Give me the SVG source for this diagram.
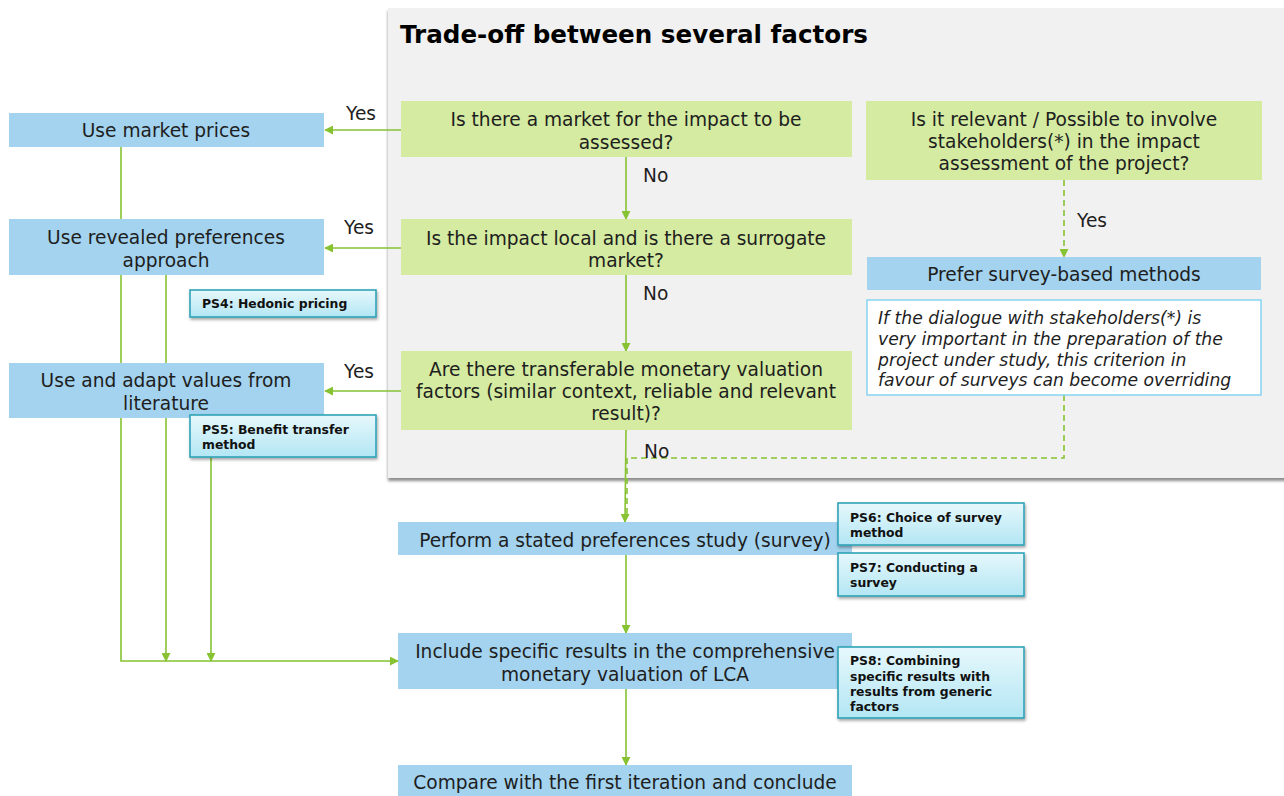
<svg xmlns="http://www.w3.org/2000/svg" width="1284" height="796" viewBox="0 0 1284 796">
  <style>
    text { font-family: "DejaVu Sans", Verdana, sans-serif; fill: #1e1e1e; }
    .t { font-size: 18.6px; text-anchor: middle; }
    .lbl { font-size: 18.6px; }
    .title { font-size: 24.6px; font-weight: bold; fill: #000; }
    .note { font-size: 17.2px; font-style: italic; }
    .ps { font-size: 12.4px; font-weight: bold; fill: #111; }
    .blue { fill: #a3d3ee; }
    .green { fill: #d4eba1; }
    .psbox { fill: url(#psFill); stroke: #2fa3b8; stroke-width: 1.6; filter: url(#shadow); }
    .wire { fill: none; stroke: #86c232; stroke-width: 1.6; }
    .dash { fill: none; stroke: #86c232; stroke-width: 1.6; stroke-dasharray: 6 4; }
  </style>
  <defs>
    <marker id="arrow" viewBox="0 0 10 10" refX="9" refY="5" markerWidth="9" markerHeight="9" markerUnits="userSpaceOnUse" orient="auto">
      <path d="M0,0 L10,5 L0,10 z" fill="#86c232"/>
    </marker>
    <linearGradient id="psFill" x1="0" y1="0" x2="0" y2="1">
      <stop offset="0" stop-color="#e6f8fc"/>
      <stop offset="1" stop-color="#b3e6f4"/>
    </linearGradient>
    <filter id="shadow" x="-10%" y="-20%" width="125%" height="150%">
      <feDropShadow dx="1" dy="2" stdDeviation="1.5" flood-color="#000" flood-opacity="0.35"/>
    </filter>
    <filter id="panelShadow" x="-5%" y="-5%" width="110%" height="110%">
      <feDropShadow dx="0" dy="3" stdDeviation="1.5" flood-color="#000" flood-opacity="0.45"/>
    </filter>
  </defs>

  <rect width="1284" height="796" fill="#fff"/>

  <!-- grey trade-off panel -->
  <g id="panel">
    <rect x="388" y="8" width="900" height="470" fill="#f1f1f1" filter="url(#panelShadow)"/>
    <text class="title" x="400" y="43">Trade-off between several factors</text>
  </g>

  <!-- connectors -->
  <g id="connectors">
    <!-- Yes branches to the left -->
    <line class="wire" x1="401" y1="130" x2="325" y2="130" marker-end="url(#arrow)"/>
    <line class="wire" x1="401" y1="248" x2="325" y2="248" marker-end="url(#arrow)"/>
    <line class="wire" x1="401" y1="391" x2="325" y2="391" marker-end="url(#arrow)"/>
    <!-- No branches downward -->
    <line class="wire" x1="626" y1="157" x2="626" y2="219" marker-end="url(#arrow)"/>
    <line class="wire" x1="626" y1="275" x2="626" y2="351" marker-end="url(#arrow)"/>
    <line class="wire" x1="626" y1="430" x2="625" y2="522" marker-end="url(#arrow)"/>
    <!-- stakeholder branch -->
    <line class="dash" x1="1064" y1="180" x2="1064" y2="257" marker-end="url(#arrow)"/>
    <polyline class="dash" points="1064,395 1064,458 627,458 627,515"/>
    <!-- main trunk -->
    <line class="wire" x1="626" y1="555" x2="626" y2="633" marker-end="url(#arrow)"/>
    <line class="wire" x1="626" y1="689" x2="626" y2="765" marker-end="url(#arrow)"/>
    <!-- left collector lines -->
    <polyline class="wire" points="121,147 121,661 398,661" marker-end="url(#arrow)"/>
    <line class="wire" x1="166" y1="275" x2="166" y2="661" marker-end="url(#arrow)"/>
    <line class="wire" x1="211" y1="457" x2="211" y2="661" marker-end="url(#arrow)"/>
  </g>

  <!-- left column: method boxes -->
  <g id="market-prices">
    <rect class="blue" x="9" y="113" width="315" height="34"/>
    <text class="t" x="166" y="137">Use market prices</text>
  </g>
  <g id="revealed-preferences">
    <rect class="blue" x="9" y="219" width="315" height="56"/>
    <text class="t" x="166" y="244">Use revealed preferences</text>
    <text class="t" x="166" y="267">approach</text>
  </g>
  <g id="ps4">
    <rect class="psbox" x="190" y="290" width="186" height="27"/>
    <text class="ps" x="202" y="308">PS4: Hedonic pricing</text>
  </g>
  <g id="literature-values">
    <rect class="blue" x="9" y="363" width="315" height="55"/>
    <text class="t" x="166" y="387">Use and adapt values from</text>
    <text class="t" x="166" y="410">literature</text>
  </g>
  <g id="ps5">
    <rect class="psbox" x="190" y="415" width="186" height="42"/>
    <text class="ps" x="202" y="434">PS5: Benefit transfer</text>
    <text class="ps" x="202" y="449">method</text>
  </g>

  <!-- decision questions -->
  <g id="q-market">
    <rect class="green" x="401" y="101" width="451" height="56"/>
    <text class="t" x="626" y="126">Is there a market for the impact to be</text>
    <text class="t" x="626" y="149">assessed?</text>
  </g>
  <g id="q-surrogate">
    <rect class="green" x="401" y="219" width="451" height="56"/>
    <text class="t" x="626" y="245">Is the impact local and is there a surrogate</text>
    <text class="t" x="626" y="267">market?</text>
  </g>
  <g id="q-transfer">
    <rect class="green" x="401" y="351" width="451" height="79"/>
    <text class="t" x="626" y="376">Are there transferable monetary valuation</text>
    <text class="t" x="626" y="398">factors (similar context, reliable and relevant</text>
    <text class="t" x="626" y="420">result)?</text>
  </g>
  <g id="q-stakeholders">
    <rect class="green" x="866" y="101" width="396" height="79"/>
    <text class="t" x="1064" y="126">Is it relevant / Possible to involve</text>
    <text class="t" x="1064" y="148">stakeholders(*) in the impact</text>
    <text class="t" x="1064" y="170">assessment of the project?</text>
  </g>
  <g id="survey-methods">
    <rect class="blue" x="867" y="257" width="394" height="33"/>
    <text class="t" x="1064" y="281">Prefer survey-based methods</text>
  </g>
  <g id="stakeholder-note">
    <rect x="867" y="300" width="394" height="95" fill="#fff" stroke="#85d3f2" stroke-width="1.5"/>
    <text class="note" x="878" y="324">If the dialogue with stakeholders(*) is</text>
    <text class="note" x="878" y="345">very important in the preparation of the</text>
    <text class="note" x="878" y="366">project under study, this criterion in</text>
    <text class="note" x="878" y="386">favour of surveys can become overriding</text>
  </g>

  <!-- branch labels -->
  <g id="branch-labels">
    <text class="lbl" x="346" y="120">Yes</text>
    <text class="lbl" x="344" y="234">Yes</text>
    <text class="lbl" x="344" y="378">Yes</text>
    <text class="lbl" x="643" y="182">No</text>
    <text class="lbl" x="643" y="300">No</text>
    <text class="lbl" x="644" y="458">No</text>
    <text class="lbl" x="1077" y="227">Yes</text>
  </g>

  <!-- lower trunk -->
  <g id="stated-preferences">
    <rect class="blue" x="398" y="522" width="454" height="33"/>
    <text class="t" x="625" y="547">Perform a stated preferences study (survey)</text>
  </g>
  <g id="ps6">
    <rect class="psbox" x="838" y="503" width="186" height="42"/>
    <text class="ps" x="850" y="522">PS6: Choice of survey</text>
    <text class="ps" x="850" y="537">method</text>
  </g>
  <g id="ps7">
    <rect class="psbox" x="838" y="553" width="186" height="43"/>
    <text class="ps" x="850" y="572">PS7: Conducting a</text>
    <text class="ps" x="850" y="587">survey</text>
  </g>
  <g id="include-results">
    <rect class="blue" x="398" y="633" width="454" height="56"/>
    <text class="t" x="625" y="658">Include specific results in the comprehensive</text>
    <text class="t" x="625" y="681">monetary valuation of LCA</text>
  </g>
  <g id="ps8">
    <rect class="psbox" x="838" y="647" width="186" height="71"/>
    <text class="ps" x="850" y="665">PS8: Combining</text>
    <text class="ps" x="850" y="681">specific results with</text>
    <text class="ps" x="850" y="696">results from generic</text>
    <text class="ps" x="850" y="711">factors</text>
  </g>
  <g id="compare">
    <rect class="blue" x="398" y="765" width="454" height="33"/>
    <text class="t" x="625" y="789">Compare with the first iteration and conclude</text>
  </g>
</svg>
